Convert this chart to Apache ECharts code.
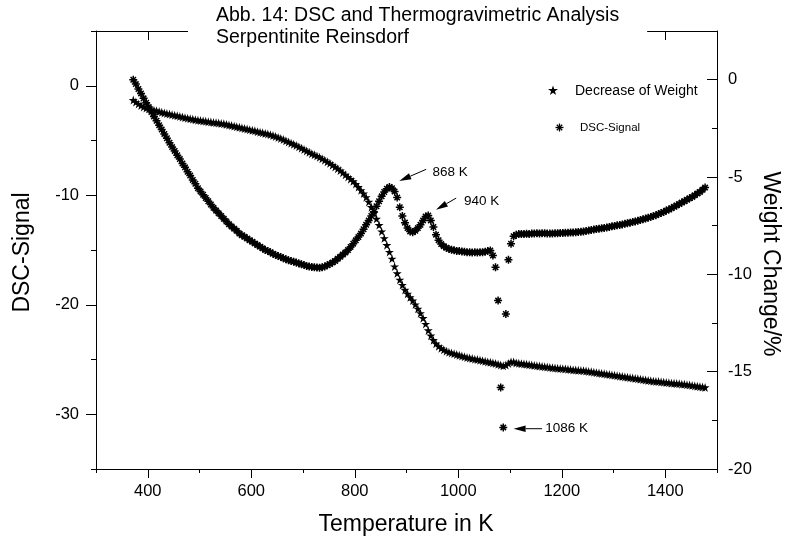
<!DOCTYPE html>
<html><head><meta charset="utf-8">
<script src="https://cdn.jsdelivr.net/npm/echarts@6/dist/echarts.min.js"></script>
<style>html,body{margin:0;padding:0;background:#fff}#c{width:786px;height:537px}</style>
</head><body><div id="c"></div>
<script>
const titleLines = ['Abb. 14: DSC and Thermogravimetric Analysis', 'Serpentinite Reinsdorf'];
const xName = 'Temperature in K';
const yLeftName = 'DSC-Signal';
const yRightName = 'Weight Change/%';
const legendNames = ['Decrease of Weight', 'DSC-Signal'];
const xTickLabels = [400, 600, 800, 1000, 1200, 1400];
const yLeftTickLabels = [-30, -20, -10, 0];
const yRightTickLabels = [-20, -15, -10, -5, 0];
// measurement temperatures: first sample and sampling step (K)
const sampleStartK = 372, sampleStepK = 5;
// DSC-Signal (left axis), one value per sample
const dscSignal = [
 0.55, 0.15, -0.3, -0.7, -1.15, -1.55, -1.95, -2.4, -2.8, -3.2,
 -3.6, -4.0, -4.4, -4.8, -5.2, -5.6, -5.95, -6.35, -6.7, -7.1,
 -7.45, -7.85, -8.2, -8.6, -8.95, -9.35, -9.65, -9.95, -10.25, -10.55,
 -10.85, -11.15, -11.4, -11.65, -11.9, -12.15, -12.4, -12.65, -12.85, -13.05,
 -13.25, -13.5, -13.65, -13.8, -13.95, -14.1, -14.25, -14.4, -14.55, -14.7,
 -14.85, -15.0, -15.1, -15.2, -15.35, -15.45, -15.55, -15.65, -15.75, -15.85,
 -15.93, -16.0, -16.08, -16.15, -16.23, -16.3, -16.38, -16.45, -16.5, -16.55,
 -16.58, -16.6, -16.62, -16.58, -16.5, -16.4, -16.28, -16.15, -16.0, -15.8,
 -15.62, -15.42, -15.22, -15.0, -14.72, -14.42, -14.12, -13.82, -13.5, -13.1,
 -12.7, -12.3, -11.9, -11.5, -11.0, -10.55, -10.1, -9.7, -9.4, -9.25,
 -9.35, -9.65, -10.2, -11.1, -11.9, -12.5, -13.0, -13.3, -13.37, -13.25,
 -13.0, -12.7, -12.3, -11.95, -11.85, -12.3, -12.9, -13.6, -14.1, -14.45,
 -14.65, -14.8, -14.9, -14.97, -15.03, -15.08, -15.1, -15.13, -15.17, -15.2,
 -15.2, -15.22, -15.2, -15.22, -15.2, -15.2, -15.15, -15.1, -15.05, -15.5,
 -16.57, -19.62, -27.56, -31.2, -20.84, -15.9, -14.43, -13.75, -13.6, -13.55,
 -13.55, -13.55, -13.52, -13.55, -13.5, -13.5, -13.48, -13.5, -13.47, -13.48,
 -13.5, -13.5, -13.5, -13.48, -13.47, -13.45, -13.45, -13.43, -13.42, -13.4,
 -13.4, -13.38, -13.36, -13.33, -13.3, -13.27, -13.22, -13.18, -13.13, -13.09,
 -13.05, -13.02, -12.98, -12.94, -12.9, -12.83, -12.8, -12.75, -12.72, -12.66,
 -12.6, -12.55, -12.5, -12.45, -12.4, -12.33, -12.27, -12.2, -12.13, -12.05,
 -11.98, -11.9, -11.82, -11.72, -11.62, -11.52, -11.4, -11.3, -11.18, -11.05,
 -10.93, -10.8, -10.67, -10.55, -10.4, -10.28, -10.15, -10.0, -9.85, -9.7,
 -9.5, -9.3
];
// Decrease of Weight in % (right axis), one value per sample
const weightChange = [
 -1.05, -1.15, -1.25, -1.33, -1.4, -1.46, -1.5, -1.54, -1.57, -1.6,
 -1.64, -1.68, -1.71, -1.74, -1.77, -1.8, -1.83, -1.86, -1.89, -1.92,
 -1.95, -1.98, -2.01, -2.03, -2.06, -2.08, -2.1, -2.12, -2.14, -2.16,
 -2.18, -2.2, -2.21, -2.23, -2.25, -2.27, -2.3, -2.33, -2.36, -2.39,
 -2.42, -2.45, -2.48, -2.51, -2.54, -2.57, -2.6, -2.63, -2.67, -2.7,
 -2.73, -2.76, -2.79, -2.83, -2.87, -2.92, -2.97, -3.02, -3.08, -3.14,
 -3.2, -3.26, -3.32, -3.38, -3.45, -3.52, -3.59, -3.66, -3.73, -3.8,
 -3.86, -3.92, -3.99, -4.06, -4.14, -4.22, -4.3, -4.39, -4.48, -4.57,
 -4.67, -4.78, -4.89, -5.0, -5.11, -5.22, -5.36, -5.52, -5.68, -5.85,
 -6.04, -6.28, -6.55, -6.85, -7.15, -7.47, -7.8, -8.15, -8.5, -8.85,
 -9.2, -9.6, -9.95, -10.28, -10.55, -10.8, -11.0, -11.18, -11.35, -11.55,
 -11.77, -12.0, -12.25, -12.55, -12.88, -13.15, -13.38, -13.56, -13.7, -13.8,
 -13.88, -13.95, -14.0, -14.04, -14.08, -14.12, -14.16, -14.2, -14.24, -14.27,
 -14.3, -14.33, -14.36, -14.38, -14.41, -14.44, -14.47, -14.5, -14.52, -14.55,
 -14.58, -14.62, -14.66, -14.7, -14.66, -14.58, -14.5, -14.5, -14.55, -14.57,
 -14.59, -14.6, -14.62, -14.64, -14.66, -14.68, -14.7, -14.71, -14.73, -14.75,
 -14.76, -14.78, -14.8, -14.81, -14.83, -14.84, -14.85, -14.86, -14.88, -14.89,
 -14.91, -14.92, -14.93, -14.94, -14.95, -14.97, -14.99, -15.01, -15.03, -15.05,
 -15.07, -15.09, -15.11, -15.13, -15.15, -15.17, -15.19, -15.21, -15.23, -15.25,
 -15.27, -15.29, -15.31, -15.33, -15.35, -15.37, -15.39, -15.41, -15.43, -15.45,
 -15.47, -15.49, -15.5, -15.51, -15.53, -15.54, -15.56, -15.57, -15.59, -15.6,
 -15.61, -15.62, -15.64, -15.65, -15.67, -15.69, -15.71, -15.73, -15.75, -15.77,
 -15.79, -15.81
];
// annotation arrows, in data units of the DSC axis: [temperature, DSC]
const annotationTexts = ['868 K', '940 K', '1086 K'];
const annotationTails = [[938, -7.63], [996, -10.26], [1162, -31.32]];
const annotationHeads = [[886, -8.7], [957, -11.32], [1107, -31.32]];
const annotationLabels = [[950, -7.88], [1011, -10.53], [1168, -31.32]];

const FONT = '"Liberation Sans", Arial, Helvetica, sans-serif';
const BLACK = '#000';
const STAR_PTS = [[5,0],[6.18,3.62],[10,3.62],[6.91,5.86],[8.09,9.5],[5,7.24],[1.91,9.5],[3.09,5.86],[0,3.62],[3.82,3.62]];
const STAR_PATH = 'M' + STAR_PTS.map(p => p.join(',')).join('L') + 'Z';
const AST_LINES = [[0,5,10,5],[5,0,5,10],[1.6,1.6,8.4,8.4],[8.4,1.6,1.6,8.4]];
const AST_PATH = AST_LINES.map(l => 'M' + l[0] + ',' + l[1] + 'L' + l[2] + ',' + l[3]).join('');

const temps = dscSignal.map((_, i) => sampleStartK + i * sampleStepK);
const dscData = temps.map((t, i) => [t, dscSignal[i]]);
const weightData = temps.map((t, i) => [t, weightChange[i]]);

const chart = echarts.init(document.getElementById('c'), null, {renderer: 'canvas'});
const lineBlack = {color: BLACK, width: 1};
const labelBase = {color: BLACK, fontSize: 16.5, fontFamily: FONT, formatter: v => String(v)};

chart.setOption({
  animation: false,
  backgroundColor: '#fff',
  textStyle: {fontFamily: FONT},
  title: {
    text: titleLines.join('\n'), left: 188, top: 0, padding: [4, 28, 8, 28],
    backgroundColor: '#fff', z: 10,
    textStyle: {fontSize: 19.5, fontWeight: 'normal', color: BLACK, fontFamily: FONT, lineHeight: 22.5}
  },
  grid: {left: 96, right: 69, top: 31, bottom: 68, containLabel: false, outerBoundsMode: 'none'},
  xAxis: [
    {type: 'value', position: 'bottom', min: 300, max: 1500, interval: 100,
     axisLine: {onZero: false, lineStyle: lineBlack}, axisTick: {length: 4, lineStyle: lineBlack},
     axisLabel: {show: false}, splitLine: {show: false}},
    {type: 'value', position: 'bottom', min: 300, max: 1500, interval: 100,
     axisLine: {show: false, onZero: false}, axisTick: {length: 9, customValues: xTickLabels, lineStyle: lineBlack},
     axisLabel: Object.assign({customValues: xTickLabels, margin: 14}, labelBase), splitLine: {show: false}},
    {type: 'value', position: 'top', min: 300, max: 1500, interval: 100,
     axisLine: {onZero: false, lineStyle: lineBlack}, axisTick: {inside: true, length: 9, customValues: xTickLabels, lineStyle: lineBlack},
     axisLabel: {show: false}, splitLine: {show: false}}
  ],
  yAxis: [
    {type: 'value', position: 'left', min: -35, max: 5, interval: 5,
     axisLine: {show: true, onZero: false, lineStyle: lineBlack}, axisTick: {show: true, length: 5, lineStyle: lineBlack},
     axisLabel: {show: false}, splitLine: {show: false}},
    {type: 'value', position: 'left', min: -35, max: 5, interval: 5,
     axisLine: {show: false, onZero: false}, axisTick: {show: true, length: 10, customValues: yLeftTickLabels, lineStyle: lineBlack},
     axisLabel: Object.assign({customValues: yLeftTickLabels, margin: 17}, labelBase), splitLine: {show: false}},
    {type: 'value', position: 'right', min: -20, max: 2.5, interval: 2.5,
     axisLine: {show: true, onZero: false, lineStyle: lineBlack}, axisTick: {show: true, inside: true, length: 5, lineStyle: lineBlack},
     axisLabel: {show: false}, splitLine: {show: false}},
    {type: 'value', position: 'right', min: -20, max: 2.5, interval: 2.5,
     axisLine: {show: false, onZero: false}, axisTick: {show: true, inside: true, length: 10, customValues: yRightTickLabels, lineStyle: lineBlack},
     axisLabel: Object.assign({customValues: yRightTickLabels, margin: 11}, labelBase), splitLine: {show: false}}
  ],
  series: [
    {name: legendNames[1], type: 'scatter', xAxisIndex: 0, yAxisIndex: 0, data: dscData,
     symbol: 'path://' + AST_PATH, symbolSize: 8,
     itemStyle: {color: BLACK, borderColor: BLACK, borderWidth: 1.5, opacity: 1}, emphasis: {disabled: true}, z: 3},
    {name: legendNames[0], type: 'scatter', xAxisIndex: 0, yAxisIndex: 2, data: weightData,
     symbol: 'path://' + STAR_PATH, symbolSize: 9,
     itemStyle: {color: BLACK, opacity: 1}, emphasis: {disabled: true}, z: 3}
  ]
});

const toPx = p => chart.convertToPixel({xAxisIndex: 0, yAxisIndex: 0}, p);
const graphics = [];
annotationTexts.forEach((txt, i) => {
  const t = toPx(annotationTails[i]), h = toPx(annotationHeads[i]), l = toPx(annotationLabels[i]);
  const dx = h[0] - t[0], dy = h[1] - t[1], len = Math.hypot(dx, dy);
  const ux = dx / len, uy = dy / len, headLen = 12, hw = 3.2;
  const bx = h[0] - ux * headLen, by = h[1] - uy * headLen;
  graphics.push({type: 'line', shape: {x1: t[0], y1: t[1], x2: bx, y2: by}, style: {stroke: BLACK, lineWidth: 1}, z: 20});
  graphics.push({type: 'polygon', shape: {points: [[h[0], h[1]], [bx - uy * hw, by + ux * hw], [bx + uy * hw, by - ux * hw]]}, style: {fill: BLACK}, z: 20});
  graphics.push({type: 'text', x: l[0], y: l[1], z: 20,
    style: {text: txt, fill: BLACK, fontSize: 13.5, fontFamily: FONT, textAlign: 'left', textVerticalAlign: 'middle'}});
});
// legend: star icon + text, asterisk icon + text
const starCx = 553, starCy = 90.5, starS = 10;
graphics.push({type: 'polygon', z: 20, shape: {points: STAR_PTS.map(p => [starCx - starS / 2 + p[0] * starS / 10, starCy - starS / 2 + p[1] * starS / 10])}, style: {fill: BLACK}});
graphics.push({type: 'text', z: 20, x: 575, y: 91, style: {text: legendNames[0], fill: BLACK, fontSize: 14, fontFamily: FONT, textAlign: 'left', textVerticalAlign: 'middle'}});
const astCx = 559.5, astCy = 127.5, astS = 8;
AST_LINES.forEach(l => graphics.push({type: 'line', z: 20,
  shape: {x1: astCx - astS / 2 + l[0] * astS / 10, y1: astCy - astS / 2 + l[1] * astS / 10, x2: astCx - astS / 2 + l[2] * astS / 10, y2: astCy - astS / 2 + l[3] * astS / 10},
  style: {stroke: BLACK, lineWidth: 1.3}}));
graphics.push({type: 'text', z: 20, x: 580, y: 127.5, style: {text: legendNames[1], fill: BLACK, fontSize: 11.5, fontFamily: FONT, textAlign: 'left', textVerticalAlign: 'middle'}});
// axis names
graphics.push({type: 'text', z: 20, x: 406, y: 525, style: {text: xName, fill: BLACK, fontSize: 23, fontFamily: FONT, textAlign: 'center', textVerticalAlign: 'middle'}});
graphics.push({type: 'text', z: 20, x: 22.5, y: 252.5, rotation: Math.PI / 2, style: {text: yLeftName, fill: BLACK, fontSize: 23, fontFamily: FONT, textAlign: 'center', textVerticalAlign: 'middle'}});
graphics.push({type: 'text', z: 20, x: 770, y: 264, rotation: -Math.PI / 2, style: {text: yRightName, fill: BLACK, fontSize: 23, fontFamily: FONT, textAlign: 'center', textVerticalAlign: 'middle'}});
chart.setOption({graphic: graphics});
</script>
</body></html>
